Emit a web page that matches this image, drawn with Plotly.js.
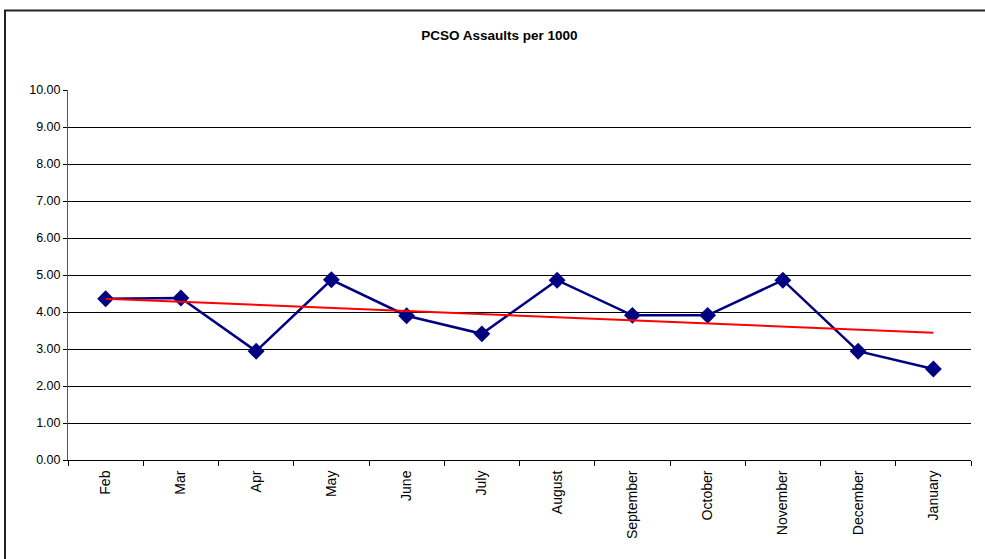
<!DOCTYPE html>
<html>
<head>
<meta charset="utf-8">
<script src="https://cdn.plot.ly/plotly-3.0.1.min.js"></script>
<style>
  html, body { margin: 0; padding: 0; background: #fff; }
  #chart { width: 985px; height: 559px; }
</style>
</head>
<body>
<div id="chart"></div>
<script>
const months = ["Feb", "Mar", "Apr", "May", "June", "July", "August", "September", "October", "November", "December", "January"];
const assaults = [4.36, 4.38, 2.94, 4.87, 3.90, 3.41, 4.86, 3.91, 3.91, 4.86, 2.94, 2.46];
const trendMonths = ["Feb", "January"];
const trendValues = [4.36, 3.44];
const yTicks = [0, 1, 2, 3, 4, 5, 6, 7, 8, 9, 10];

const font = "Liberation Sans, Arial, sans-serif";

const traces = [
  {
    x: months, y: assaults, type: "scatter", mode: "lines+markers",
    line: { color: "#000080", width: 2.5 },
    marker: { symbol: "diamond", size: 13, color: "#000080" },
    hoverinfo: "x+y", showlegend: false
  },
  {
    x: trendMonths, y: trendValues, type: "scatter", mode: "lines",
    line: { color: "#ff0000", width: 2 },
    hoverinfo: "skip", showlegend: false
  }
];

const layout = {
  width: 985, height: 559,
  margin: { l: 68, r: 14, t: 90, b: 99 },
  paper_bgcolor: "#ffffff", plot_bgcolor: "#ffffff",
  font: { family: font, size: 12.5, color: "#000" },
  title: {
    text: "<b>PCSO Assaults per 1000</b>",
    font: { family: font, size: 13.5, color: "#000" },
    x: 0.507, xref: "container", xanchor: "center",
    y: 1 - 35 / 559, yref: "container", yanchor: "middle"
  },
  xaxis: {
    type: "category", categoryorder: "array", categoryarray: months,
    range: [-0.5, 11.5],
    tickmode: "array", tickvals: months, ticktext: months,
    tickson: "boundaries", ticks: "outside", ticklen: 5, tickcolor: "#000", tickwidth: 1,
    ticklabelstandoff: 4,
    tickangle: -90, tickfont: { family: font, size: 14, color: "#000" },
    showline: true, linecolor: "#000", linewidth: 1,
    showgrid: false, zeroline: false, fixedrange: true
  },
  yaxis: {
    range: [0, 10],
    tickmode: "array", tickvals: yTicks, ticktext: yTicks.map(v => v.toFixed(2)),
    ticks: "outside", ticklen: 4, tickcolor: "#000", tickwidth: 1,
    tickfont: { family: font, size: 12.5, color: "#000" },
    showline: true, linecolor: "#555", linewidth: 1,
    showgrid: true, gridcolor: "#000", gridwidth: 1,
    zeroline: false, fixedrange: true
  },
  shapes: [
    {
      type: "rect", xref: "paper", yref: "paper",
      x0: (5 - 68) / 903, x1: 1.2, y0: -0.5, y1: (460 - 10.5) / 370,
      line: { color: "#222", width: 2 }, fillcolor: "rgba(0,0,0,0)", layer: "below"
    }
  ]
};

Plotly.newPlot("chart", traces, layout, { displayModeBar: false, staticPlot: true });
</script>
</body>
</html>
